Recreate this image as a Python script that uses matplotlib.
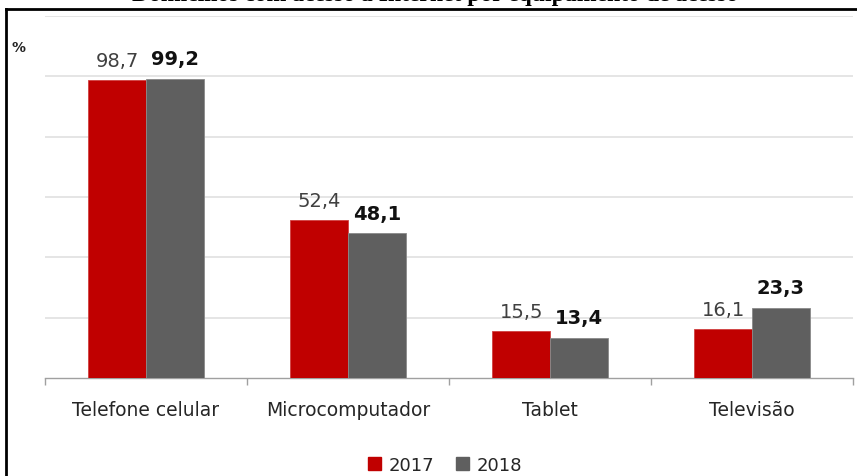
import matplotlib
matplotlib.use("Agg")
import matplotlib.pyplot as plt
import numpy as np
from matplotlib.lines import Line2D

categories = ["Telefone celular", "Microcomputador", "Tablet", "Televisão"]
years = ["2017", "2018"]
values_2017 = [98.7, 52.4, 15.5, 16.1]
values_2018 = [99.2, 48.1, 13.4, 23.3]
title = "Domicílios com acesso à Internet por equipamento de acesso"

plt.rcParams['font.family'] = ['DejaVu Sans']

fig = plt.figure(figsize=(8.57, 4.77), dpi=100)
ax = fig.add_axes([0.0525, 0.2055, 0.9428, 0.7589])

x = np.arange(len(categories))
w = 0.285
red = "#C00000"
gray = "#5F5F5F"
ax.bar(x - w/2, values_2017, w, color=red, edgecolor="#d04040", linewidth=0.6, zorder=3)
ax.bar(x + w/2, values_2018, w, color=gray, edgecolor="#8a8a8a", linewidth=0.6, zorder=3)

for xi, v in zip(x, values_2017):
    ax.text(xi - w/2, v + 3.4, f"{v:.1f}".replace(".", ","), ha="center", va="bottom",
            fontsize=14, color="#404040")
for xi, v in zip(x, values_2018):
    ax.text(xi + w/2, v + 3.4, f"{v:.1f}".replace(".", ","), ha="center", va="bottom",
            fontsize=14, color="#111111", fontweight="bold")

ax.set_xlim(-0.5, len(categories) - 0.5)
ax.set_ylim(0, 120)
ax.set_yticks([20, 40, 60, 80, 100, 120])
ax.yaxis.grid(True, color="#e0e0e0", linewidth=1.2, zorder=0)
ax.tick_params(axis="y", left=False, labelleft=False)
ax.set_xticks(x)
ax.set_xticklabels(categories, fontsize=13.5, color="#262626")
ax.tick_params(axis="x", length=0, pad=16)
ax.set_xticks(np.arange(len(categories) + 1) - 0.5, minor=True)
ax.tick_params(axis="x", which="minor", length=5, color="#a0a0a0", width=1)
for s in ["top", "right", "left"]:
    ax.spines[s].set_visible(False)
ax.spines["bottom"].set_color("#a0a0a0")
ax.spines["bottom"].set_linewidth(1)

# % label
fig.text(11/857, 1 - 48/477, "%", fontsize=10, fontweight="bold", color="#222222", va="center", ha="left")

# border lines (left and top)
fig.add_artist(Line2D([6/857, 6/857], [0, 1 - 10/477], color="black", linewidth=2, transform=fig.transFigure))
fig.add_artist(Line2D([6/857, 1], [1 - 10/477, 1 - 10/477], color="black", linewidth=2, transform=fig.transFigure))

# clipped title
fig.text(435/857, 1 - 1/477, title, fontsize=17, fontweight="bold", family=["Liberation Serif"],
         ha="center", va="baseline", color="black")

# legend
handles = [plt.Rectangle((0, 0), 1, 1, color=red), plt.Rectangle((0, 0), 1, 1, color=gray)]
fig.legend(handles, years, loc="center", bbox_to_anchor=(445/857, 1 - 466/477), ncol=2,
           frameon=False, fontsize=13, handlelength=0.75, handleheight=0.75, handletextpad=0.4,
           columnspacing=1.2, labelcolor="#262626")

fig.savefig("out.png", dpi=100)
